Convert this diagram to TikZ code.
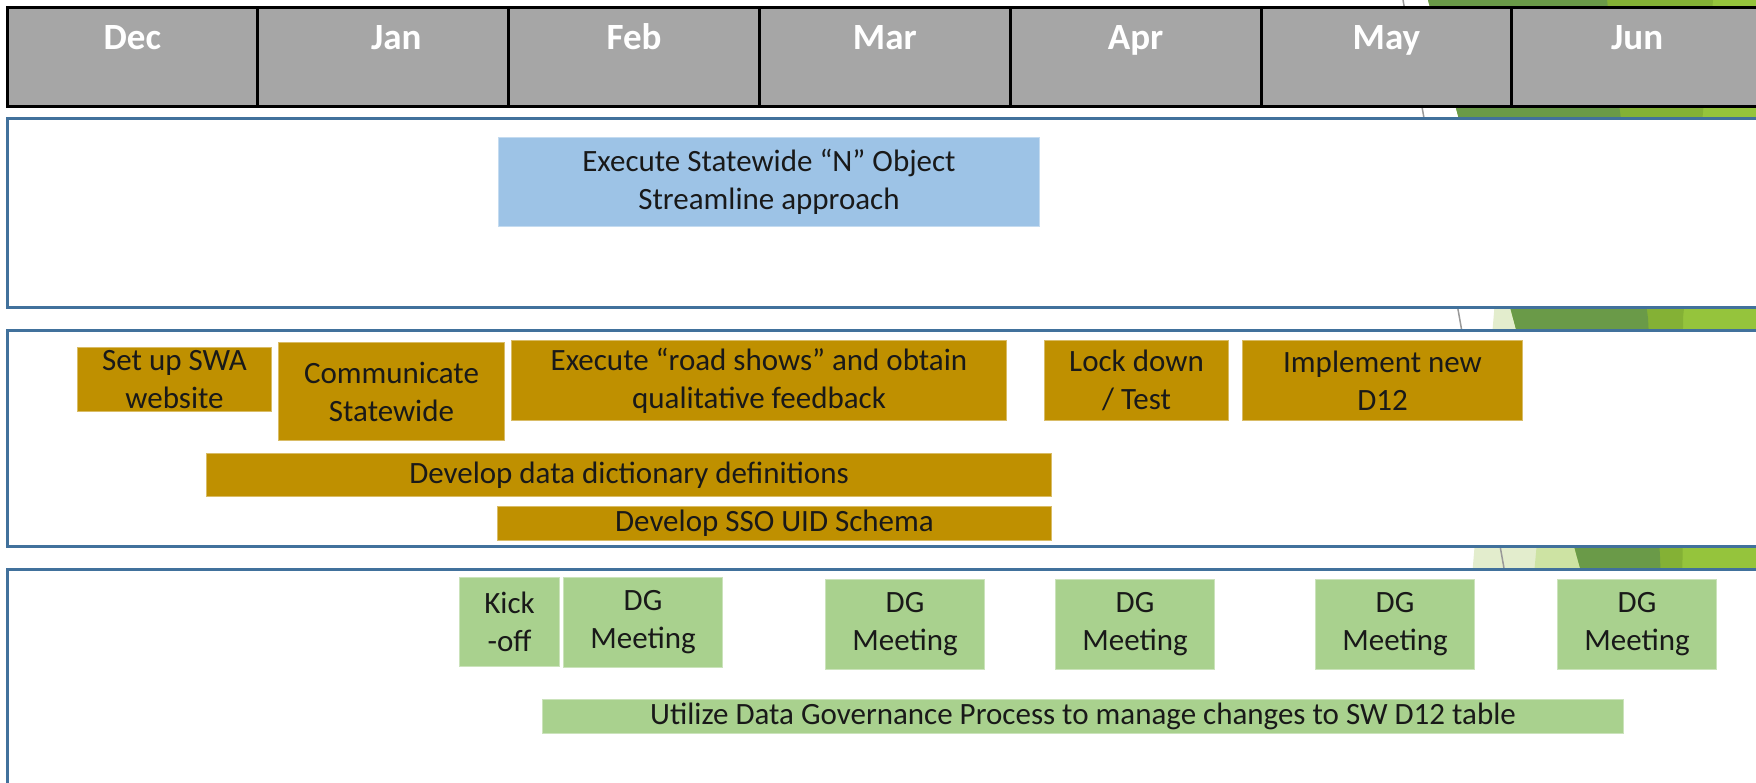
\documentclass[tikz,border=0pt]{standalone}
\usepackage{fontspec}
\setmainfont{Carlito}

\definecolor{hdrgray}{HTML}{A6A6A6}
\definecolor{panelblue}{HTML}{41719C}
\definecolor{taskgold}{HTML}{BF9000}
\definecolor{taskblue}{HTML}{9DC3E6}
\definecolor{taskgreen}{HTML}{A9D18E}
\definecolor{leafdark}{HTML}{6A9A48}
\definecolor{leafmid}{HTML}{84B135}
\definecolor{leafbright}{HTML}{95C43C}
\definecolor{leaflight}{HTML}{E3EDCD}
\definecolor{leafpale}{HTML}{CDE3A3}

\tikzset{
  every picture/.style={line width=0.75pt},
  hdrcell/.style={fill=hdrgray, draw=black, line width=3},
  monthlabel/.style={anchor=base, text=white, font=\fontsize{37}{44}\selectfont\bfseries},
  panel/.style={draw=panelblue, fill=white, line width=3},
  task/.style={anchor=north west, inner sep=0pt, align=center, text=black!90,
    line width=1, font=\fontsize{31}{38}\selectfont},
  goldtask/.style={task, fill=taskgold, draw=taskgold!60!white},
  bluetask/.style={task, fill=taskblue, draw=taskblue!60!white},
  greentask/.style={task, fill=taskgreen, draw=taskgreen!60!white}
}

\begin{document}
\begin{tikzpicture}[x=1pt,y=-1pt]
    \useasboundingbox (0,0) rectangle (1756,782);
    \clip (0,0) rectangle (1756,782);
    \fill[white] (0,0) rectangle (1756,782);
    % Leaf shapes behind the panels
    \fill[leaflight] (1500,240) -- (1455,782) -- (1756,782) -- (1756,240) -- cycle;
    \fill[leafpale] (1550,400) -- (1515,782) -- (1756,782) -- (1756,400) -- cycle;
    \fill[leafbright] (1428,0) -- (1756,0) -- (1756,782) -- (1640,782) -- (1577,557)
        -- (1513,318) -- (1457,112) -- cycle;
    \fill[leafmid] (1600,0) -- (1713,0) -- (1703,112) -- (1683,318) -- (1682,782)
        -- (1600,782) -- cycle;
    \fill[leafdark] (1428,0) -- (1607,0) -- (1620,112) -- (1648,318) -- (1660,557)
        -- (1668,782) -- (1640,782) -- (1577,557) -- (1513,318) -- (1457,112) -- cycle;
    \draw[black!40, line width=1.5] (1403,0) -- (1542,782);
    % Month header
    \foreach \m/\dx [count=\i from 0] in {Dec/0,Jan/13,Feb/0,Mar/0,Apr/0,May/0,Jun/0} {
        \draw[hdrcell] ({7+250.8*\i},7) rectangle ({7+250.8*(\i+1)},106);
        \node[monthlabel] (month-\i) at ({132.4+250.8*\i+\dx},49) {\m};
    }
    % Swim lanes
    \draw[panel] (7,118) rectangle (1800,307);
    \draw[panel] (7,330) rectangle (1800,546);
    \draw[panel] (7,569) rectangle (1800,820);
    % Lane 1
    \node[bluetask, minimum width=541, minimum height=89] (nobject) at (498,137)
        {Execute Statewide “N” Object\\Streamline approach};
    % Lane 2
    \node[goldtask, minimum width=194, minimum height=64] (swa) at (77,347) {Set up SWA\\website};
    \node[goldtask, minimum width=226, minimum height=98] (comm) at (278,342) {Communicate\\Statewide};
    \node[goldtask, minimum width=495, minimum height=80] (roadshow) at (511,340)
        {Execute “road shows” and obtain\\qualitative feedback};
    \node[goldtask, minimum width=184, minimum height=80] (lockdown) at (1044,340) {Lock down\\/ Test};
    \node[goldtask, minimum width=280, minimum height=80] (newdtw) at (1242,340) {Implement new\\D12};
    \node[goldtask, minimum width=845, minimum height=43] (dict) at (206,453) {Develop data dictionary definitions};
    \node[goldtask, minimum width=554, minimum height=34] (sso) at (497,506) {Develop SSO UID Schema};
    % Lane 3
    \node[greentask, minimum width=100, minimum height=89] (kickoff) at (459,577) {Kick\\-off};
    \foreach \x/\y [count=\k] in {563/577, 825/579, 1055/579, 1315/579, 1557/579}
        \node[greentask, minimum width=159, minimum height=90] (dg-\k) at (\x,\y) {DG\\Meeting};
    \node[greentask, minimum width=1081, minimum height=34] (govern) at (542,699)
        {Utilize Data Governance Process to manage changes to SW D12 table};
\end{tikzpicture}
\end{document}
